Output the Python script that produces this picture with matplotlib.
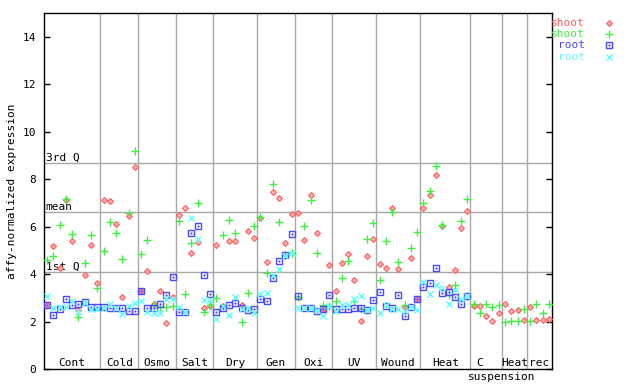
import matplotlib
matplotlib.use("Agg")
import matplotlib.pyplot as plt
import matplotlib.transforms as mtransforms
import numpy as np

# condition groups (number of samples in each) and their labels
groups = ["Cont", "Cold", "Osmo", "Salt", "Dry", "Gen", "Oxi", "UV",
          "Wound", "Heat", "C", "Heat", "rec"]
group_sizes = [9, 6, 6, 6, 7, 6, 6, 7, 7, 8, 5, 4, 4]

# reference lines
q1 = 4.09
mean_val = 6.62
q3 = 8.69

# shoot, probe 1 (red diamonds)
shoot_a = [2.71, 5.19, 4.26, 7.12, 5.40, 2.49, 3.96, 5.23, 3.63,
           7.13, 7.09, 6.12, 3.04, 6.45, 8.52,
           3.29, 4.13, 2.77, 3.29, 1.94, 3.06,
           6.49, 6.79, 4.89, 5.36, 2.57, 2.66,
           5.23, 2.66, 5.40, 5.40, 2.71, 5.83, 5.53,
           6.37, 4.51, 7.46, 7.21, 5.31, 6.54,
           6.58, 5.45, 7.34, 5.74, 2.53, 4.39,
           3.29, 4.47, 4.85, 3.75, 2.02, 4.77, 5.48,
           4.43, 4.26, 6.79, 4.22, 2.64, 4.68, 2.95,
           6.79, 7.34, 8.18, 6.02, 3.46, 4.18, 5.95, 6.66,
           2.68, 2.66, 2.24, 2.02, 2.36,
           2.74, 2.44, 2.48, 2.06,
           2.61, 2.06, 2.06, 2.10]

# shoot, probe 2 (green plus)
shoot_b = [4.61, 4.78, 6.07, 7.18, 5.69, 2.19, 4.47, 5.65, 3.42,
           4.98, 6.21, 5.74, 4.64, 6.58, 9.19,
           4.85, 5.44, 2.72, 2.62, 2.62, 2.67,
           6.26, 3.16, 5.31, 7.00, 2.43, 2.69,
           2.99, 5.65, 6.29, 5.74, 1.98, 3.22, 6.03,
           6.41, 4.05, 7.81, 6.20, 4.81, 4.89,
           3.05, 6.03, 7.13, 4.89, 2.70, 2.66,
           2.87, 3.84, 4.55, 2.87, 2.55, 5.48, 6.16,
           3.75, 5.40, 6.62, 4.51, 2.70, 5.10, 5.78,
           7.02, 7.51, 8.56, 6.07, 3.14, 3.54, 6.25, 7.17,
           2.75, 2.36, 2.75, 2.61, 2.70,
           1.98, 2.02, 2.02, 2.53,
           2.02, 2.75, 2.36, 2.75]

# root, probe 1 (blue squares) - no root samples past Heat
root_a = [2.71, 2.28, 2.54, 2.95, 2.71, 2.75, 2.83, 2.61, 2.61,
          2.61, 2.57, 2.57, 2.57, 2.45, 2.45,
          3.29, 2.57, 2.57, 2.74, 3.12, 3.88,
          2.40, 2.43, 5.74, 6.03, 3.99, 3.16,
          2.40, 2.57, 2.71, 2.79, 2.57, 2.49, 2.53,
          2.95, 2.87, 3.84, 4.55, 4.81, 5.69,
          3.08, 2.57, 2.57, 2.45, 2.53, 3.12,
          2.53, 2.53, 2.53, 2.57, 2.57, 2.49, 2.91,
          3.25, 2.66, 2.57, 3.12, 2.24, 2.62, 2.95,
          3.46, 3.63, 4.26, 3.21, 3.25, 3.04, 2.74, 3.08]

# root, probe 2 (cyan crosses)
root_b = [3.09, 2.57, 2.62, 2.62, 2.88, 2.43, 2.78, 2.53, 2.55,
          2.60, 2.75, 2.60, 2.32, 2.67, 2.80,
          2.87, 2.43, 2.39, 2.39, 2.95, 2.95,
          2.62, 2.43, 6.38, 5.50, 2.92, 2.92,
          2.10, 2.65, 2.28, 3.05, 2.55, 2.60, 2.36,
          3.18, 3.21, 3.98, 4.22, 4.75, 4.89,
          2.57, 2.57, 2.57, 2.50, 2.24, 2.66,
          2.45, 2.70, 2.70, 2.94, 3.08, 2.50, 2.57,
          2.36, 2.70, 2.55, 2.54, 2.45, 2.62, 2.49,
          3.67, 3.16, 3.54, 3.42, 2.74, 3.33, 2.95, 3.08]

RED = "#ff5a5a"
GREEN = "#40f040"
BLUE = "#4848ff"
CYAN = "#60ffff"
GRID = "#a8a8a8"
FONT = "DejaVu Sans Mono"

plt.rcParams["font.family"] = FONT
plt.rcParams["font.size"] = 8

# marker styles shared by plot and legend
sty_shoot_a = dict(marker="D", ms=3.0, mfc="#ffb4b4", mec=RED, mew=0.8)
sty_shoot_b = dict(marker="+", ms=6, mec=GREEN, mew=1.0)
sty_root_a = dict(marker="s", ms=4.4, mfc="none", mec=BLUE, mew=1.0)
sty_root_dot = dict(marker="s", ms=1.0, mfc=BLUE, mec=BLUE, mew=0.3)
sty_root_b = dict(marker="x", ms=4.4, mec=CYAN, mew=1.0)

fig = plt.figure(figsize=(6.4, 3.84), dpi=100)
ax = fig.add_axes([44 / 640, 14.7 / 384, 508 / 640, 356.3 / 384])

n = len(shoot_a)
ax.set_xlim(-0.5, n - 0.5)
ax.set_ylim(0, 15)

# group separators
bounds = np.cumsum(group_sizes)
for b in bounds[:-1]:
    ax.axvline(b - 0.5, color=GRID, lw=1.0, zorder=1)

# quartile / mean lines with labels
xlab = mtransforms.blended_transform_factory(ax.transAxes, ax.transData)
for val, lab in [(q3, "3rd Q"), (mean_val, "mean"), (q1, "1st Q")]:
    ax.axhline(val, color=GRID, lw=1.0, zorder=1)
    ax.text(0.003, val + 0.09, lab, transform=xlab, ha="left", va="baseline",
            fontsize=8, zorder=2)

x_shoot = np.arange(len(shoot_a))
x_root = np.arange(len(root_a))

ax.plot(x_shoot, shoot_a, ls="none", zorder=3, **sty_shoot_a)
ax.plot(x_shoot, shoot_b, ls="none", zorder=3, **sty_shoot_b)
ax.plot(x_root, root_a, ls="none", zorder=3, **sty_root_a)
ax.plot(x_root, root_a, ls="none", zorder=3, **sty_root_dot)
ax.plot(x_root, root_b, ls="none", zorder=3, **sty_root_b)

# group labels along the bottom
starts = np.concatenate([[0], bounds[:-1]])
xlab2 = mtransforms.blended_transform_factory(ax.transData, ax.transAxes)
for name, s, size in zip(groups, starts, group_sizes):
    cx = s + size / 2 - 0.5
    if name == "C":
        cx -= 1.0
    ax.text(cx, 0.008, name, transform=xlab2, ha="center", va="baseline",
            fontsize=8)
ax.text(72.4, -0.022, "suspension", transform=xlab2, ha="center",
        va="center", fontsize=8, clip_on=False)

ax.set_xticks([])
ax.set_yticks(np.arange(0, 15, 2))
ax.tick_params(axis="y", direction="in", length=4.3, width=1, pad=5.5,
               right=True, labelsize=8)
for sp in ax.spines.values():
    sp.set_linewidth(1.0)
    sp.set_color("black")

fig.text(12 / 640, 1 - 191 / 384, "affy-normalized expression",
         rotation=90, ha="center", va="center", fontsize=8)

# legend drawn as colored text beside the markers
legend_rows = [("shoot", RED), ("shoot", GREEN), ("root", BLUE), ("root", CYAN)]
legend_y = [23.3, 34.3, 45.3, 56.7]
for (lab, col), yy in zip(legend_rows, legend_y):
    fig.text(585 / 640, 1 - yy / 384, lab, color=col, ha="right",
             va="center", fontsize=8)
lax = fig.add_axes([0, 0, 1, 1], facecolor="none")
lax.set_xlim(0, 640)
lax.set_ylim(384, 0)
lax.axis("off")
lx = 609.3
lax.plot(lx, legend_y[0], ls="none", **sty_shoot_a)
lax.plot(lx, legend_y[1], ls="none", **sty_shoot_b)
lax.plot(lx, legend_y[2], ls="none", **sty_root_a)
lax.plot(lx, legend_y[2], ls="none", **sty_root_dot)
lax.plot(lx, legend_y[3], ls="none", **sty_root_b)

fig.savefig("out.png", dpi=100)
